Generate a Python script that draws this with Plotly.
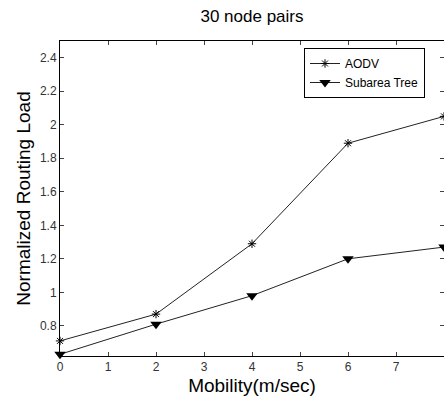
import plotly.graph_objects as go

mobility = [0, 2, 4, 6, 8]
aodv = [0.71, 0.87, 1.29, 1.89, 2.05]
subarea_tree = [0.63, 0.81, 0.98, 1.20, 1.27]
x_ticks = [0, 1, 2, 3, 4, 5, 6, 7, 8]
y_ticks = [0.8, 1.0, 1.2, 1.4, 1.6, 1.8, 2.0, 2.2, 2.4]
y_tick_text = ["0.8", "1", "1.2", "1.4", "1.6", "1.8", "2", "2.2", "2.4"]

FONT = "Liberation Sans, Arial, sans-serif"

W, H = 444, 397
L, T, R, B = 60, 41, 0, 41

fig = go.Figure()
fig.add_trace(go.Scatter(
    x=mobility, y=aodv, name="AODV", mode="lines+markers",
    line=dict(color="#222222", width=1),
    marker=dict(symbol="asterisk-open", size=7, color="black",
                line=dict(color="black", width=1)),
    cliponaxis=False,
))
fig.add_trace(go.Scatter(
    x=mobility, y=subarea_tree, name="Subarea Tree", mode="lines+markers",
    line=dict(color="#222222", width=1),
    marker=dict(symbol="triangle-down", size=10, color="black"),
    cliponaxis=False,
))

fig.update_layout(
    width=W, height=H,
    margin=dict(l=L, r=R, t=T, b=B, autoexpand=False),
    paper_bgcolor="white", plot_bgcolor="white",
    font=dict(family=FONT, color="black"),
    title=dict(text="30 node pairs", x=(L + 192) / W, xanchor="center",
               y=1 - 16 / H, yanchor="middle", font=dict(size=17, color="black")),
    showlegend=True,
    legend=dict(x=(304 - 60) / 384, y=(356 - 48) / 315, xanchor="left", yanchor="top",
                bordercolor="black", borderwidth=1, bgcolor="white",
                font=dict(size=12, color="black"), itemwidth=30,
                tracegroupgap=4),
    xaxis=dict(range=[0, 8], tickvals=x_ticks, ticks="inside", ticklen=4,
               showline=True, linecolor="black", linewidth=1, mirror="ticks",
               showgrid=False, zeroline=False,
               tickfont=dict(size=12, color="#333333"),
               title=dict(text="Mobility(m/sec)", font=dict(size=19, color="black"), standoff=5)),
    yaxis=dict(range=[0.62, 2.5], tickvals=y_ticks, ticktext=y_tick_text,
               ticks="inside", ticklen=4,
               showline=True, linecolor="black", linewidth=1, mirror="ticks",
               showgrid=False, zeroline=False,
               tickfont=dict(size=12, color="#333333"),
               title=dict(text="Normalized Routing Load", font=dict(size=19, color="black"), standoff=4)),
)

fig.write_html(
    "out.html",
    default_width="444px", default_height="397px",
    config={"displayModeBar": False},
    post_script="document.body.style.margin='0';document.body.style.overflow='hidden';",
)
